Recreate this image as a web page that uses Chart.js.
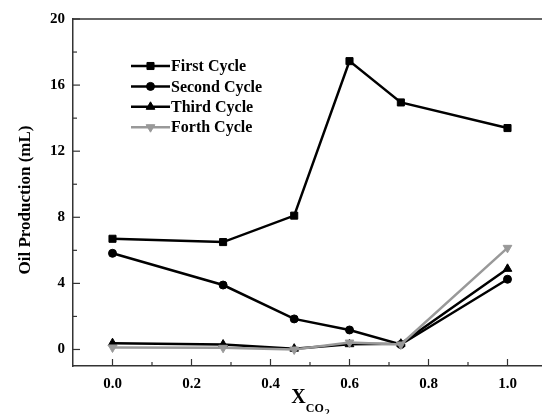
<!DOCTYPE html>
<html>
<head>
<meta charset="utf-8">
<title>Oil Production vs XCO2</title>
<script src="https://cdn.jsdelivr.net/npm/chart.js@4/dist/chart.umd.min.js"></script>
<style>
    html, body { margin: 0; padding: 0; background: #fff; overflow: hidden; }
    #oil-chart { display: block; }
</style>
</head>
<body>
<canvas id="oil-chart" width="560" height="414"></canvas>
<script>
// Data
const xCO2 = [0.0, 0.28, 0.46, 0.6, 0.73, 1.0];
const firstCycle = [6.7, 6.5, 8.1, 17.45, 14.95, 13.4];
const secondCycle = [5.82, 3.9, 1.85, 1.18, 0.3, 4.25];
const thirdCycle = [0.38, 0.3, 0.05, 0.32, 0.35, 4.88];
const forthCycle = [0.12, 0.1, 0.0, 0.42, 0.3, 6.15];
const seriesNames = ['First Cycle', 'Second Cycle', 'Third Cycle', 'Forth Cycle'];
const yTickLabels = [0, 4, 8, 12, 16, 20];
const yMinorTicks = [2, 6, 10, 14, 18];
const xTickLabels = [0.0, 0.2, 0.4, 0.6, 0.8, 1.0];
const xMinorTicks = [0.1, 0.3, 0.5, 0.7, 0.9];

const SERIF = '"Liberation Serif", "Times New Roman", serif';

document.addEventListener('DOMContentLoaded', () => {
    initOilChart();
});

function toPoints(ys) {
    return xCO2.map((x, i) => ({ x: x, y: ys[i] }));
}

function makeSet(label, ys, color, style, radius, rotation, order) {
    return {
        label: label,
        data: toPoints(ys),
        borderColor: color,
        backgroundColor: color,
        borderWidth: 2.5,
        pointStyle: style,
        pointRadius: radius,
        pointRotation: rotation,
        pointBackgroundColor: color,
        pointBorderColor: color,
        pointBorderWidth: 1,
        tension: 0,
        order: order
    };
}

// inward tick marks, top frame line, axis titles and the inset legend
const decorPlugin = {
    id: 'decor',
    afterDraw(chart) {
        const ctx = chart.ctx;
        const area = chart.chartArea;
        const xs = chart.scales.x;
        const ys = chart.scales.y;
        ctx.save();

        // top frame line
        ctx.strokeStyle = '#333';
        ctx.lineWidth = 1.5;
        ctx.beginPath();
        ctx.moveTo(area.left, area.top);
        ctx.lineTo(area.right + 20, area.top);
        ctx.stroke();

        // x ticks (major every 0.2, minor every 0.1)
        ctx.lineWidth = 1.2;
        xTickLabels.concat(xMinorTicks).forEach(v => {
            const len = xTickLabels.includes(v) ? 7 : 4;
            const px = xs.getPixelForValue(v);
            ctx.beginPath();
            ctx.moveTo(px, area.bottom);
            ctx.lineTo(px, area.bottom - len);
            ctx.stroke();
        });

        // y ticks (major every 4, minor every 2)
        yTickLabels.concat(yMinorTicks).forEach(v => {
            const len = yTickLabels.includes(v) ? 7 : 4;
            const py = ys.getPixelForValue(v);
            ctx.beginPath();
            ctx.moveTo(area.left, py);
            ctx.lineTo(area.left + len, py);
            ctx.stroke();
        });

        // y axis title
        ctx.fillStyle = '#000';
        ctx.save();
        ctx.translate(26, 200);
        ctx.rotate(-Math.PI / 2);
        ctx.font = 'bold 17px ' + SERIF;
        ctx.textAlign = 'center';
        ctx.textBaseline = 'middle';
        ctx.fillText('Oil Production (mL)', 0, 0);
        ctx.restore();

        // x axis title: X with subscript CO2
        ctx.textAlign = 'left';
        ctx.textBaseline = 'alphabetic';
        ctx.font = 'bold 20px ' + SERIF;
        const wX = ctx.measureText('X').width;
        ctx.font = 'bold 12px ' + SERIF;
        const wCO = ctx.measureText('CO').width;
        ctx.font = 'bold 10px ' + SERIF;
        const w2 = ctx.measureText('2').width;
        let tx = (area.left + area.right) / 2 - (wX + wCO + w2) / 2;
        ctx.font = 'bold 20px ' + SERIF;
        ctx.fillText('X', tx, 403);
        tx += wX;
        ctx.font = 'bold 12px ' + SERIF;
        ctx.fillText('CO', tx, 412);
        tx += wCO;
        ctx.font = 'bold 10px ' + SERIF;
        ctx.fillText('2', tx + 1, 416);

        // legend inside the plot
        const drawPoint = Chart.helpers && Chart.helpers.drawPoint;
        chart.data.datasets.forEach((ds, i) => {
            const cy = 66 + i * 20.4;
            ctx.strokeStyle = ds.borderColor;
            ctx.fillStyle = ds.borderColor;
            ctx.lineWidth = 2.5;
            ctx.beginPath();
            ctx.moveTo(131, cy);
            ctx.lineTo(170, cy);
            ctx.stroke();
            if (drawPoint) {
                ctx.lineWidth = 1;
                drawPoint(ctx, {
                    pointStyle: ds.pointStyle,
                    radius: ds.pointRadius,
                    rotation: ds.pointRotation,
                    borderWidth: 1
                }, 150.5, cy);
            }
            ctx.fillStyle = '#000';
            ctx.font = 'bold 16px ' + SERIF;
            ctx.textBaseline = 'middle';
            ctx.fillText(ds.label, 171, cy + 1);
        });

        ctx.restore();
    }
};

function initOilChart() {
    if (typeof Chart === 'undefined') return;
    const canvas = document.getElementById('oil-chart');

    new Chart(canvas, {
        type: 'line',
        data: {
            datasets: [
                makeSet(seriesNames[0], firstCycle, '#000', 'rect', 5, 0, 1),
                makeSet(seriesNames[1], secondCycle, '#000', 'circle', 4, 0, 1),
                makeSet(seriesNames[2], thirdCycle, '#000', 'triangle', 5, 0, 1),
                makeSet(seriesNames[3], forthCycle, '#999', 'triangle', 5, 180, 0)
            ]
        },
        options: {
            responsive: false,
            animation: false,
            layout: { padding: { top: 19, right: 13, left: 0, bottom: 0 } },
            plugins: {
                legend: { display: false },
                tooltip: { enabled: false }
            },
            scales: {
                x: {
                    type: 'linear',
                    min: -0.1,
                    max: 1.1,
                    grid: { display: false, drawTicks: false },
                    border: { display: true, color: '#333', width: 1.5 },
                    afterBuildTicks: (scale) => {
                        scale.ticks = xTickLabels.map(v => ({ value: v }));
                    },
                    ticks: {
                        autoSkip: false,
                        maxRotation: 0,
                        padding: 9,
                        color: '#000',
                        font: { family: SERIF, size: 15, weight: 'bold' },
                        callback: (v) => Number(v).toFixed(1)
                    },
                    afterFit: (scale) => { scale.height = 48; }
                },
                y: {
                    min: -1,
                    max: 20,
                    grid: { display: false, drawTicks: false },
                    border: { display: true, color: '#333', width: 1.5 },
                    afterBuildTicks: (scale) => {
                        scale.ticks = yTickLabels.map(v => ({ value: v }));
                    },
                    ticks: {
                        autoSkip: false,
                        padding: 8,
                        color: '#000',
                        font: { family: SERIF, size: 15, weight: 'bold' },
                        callback: (v) => String(v)
                    },
                    afterFit: (scale) => { scale.width = 73; }
                }
            }
        },
        plugins: [decorPlugin]
    });
}
</script>
</body>
</html>
